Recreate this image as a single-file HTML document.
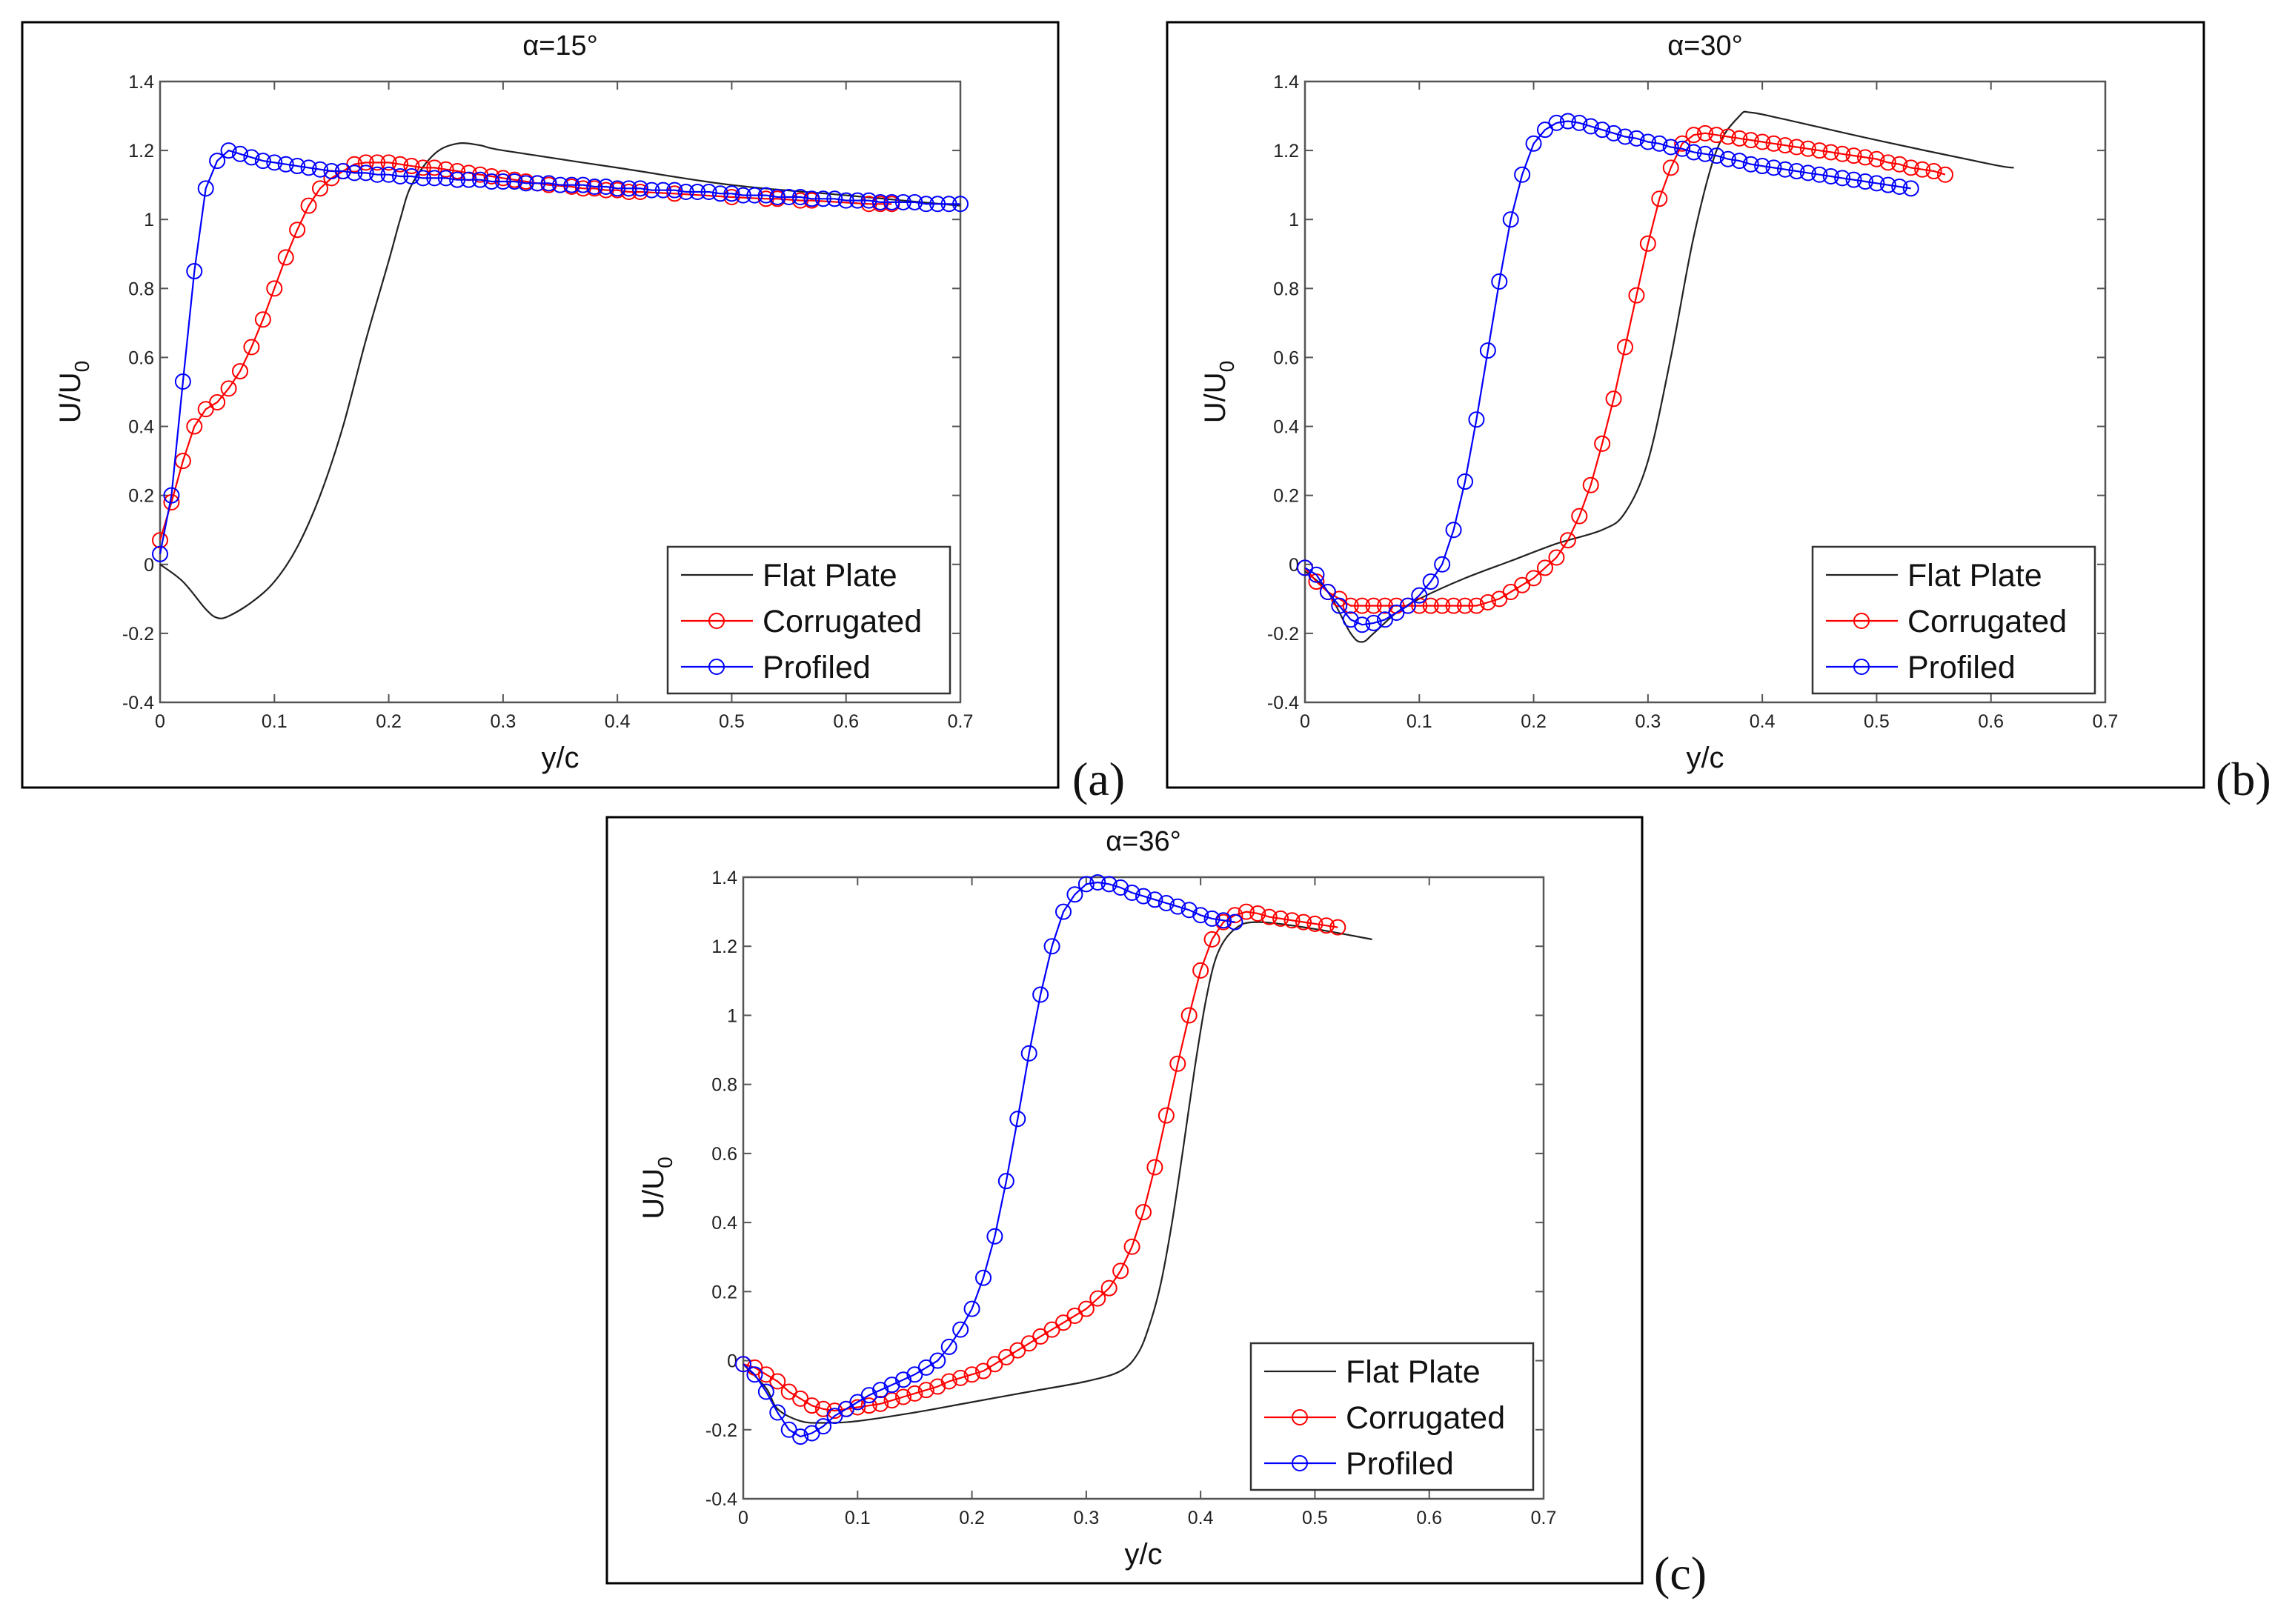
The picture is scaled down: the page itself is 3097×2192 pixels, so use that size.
<!DOCTYPE html>
<html><head><meta charset="utf-8"><style>
html,body{margin:0;padding:0;background:#fff;}
svg{display:block;}
text{font-family:"Liberation Sans",Arial,sans-serif;}
text.serif{font-family:"Liberation Serif",serif;}
</style></head><body>
<svg id="fig" width="3097" height="2192" viewBox="0 0 3097 2192" xmlns="http://www.w3.org/2000/svg"></svg>
<script>
// ---- Tick labels ----
const xTicks = [0,0.1,0.2,0.3,0.4,0.5,0.6,0.7];
const xTickLabels = ["0","0.1","0.2","0.3","0.4","0.5","0.6","0.7"];
const yTicks = [-0.4,-0.2,0,0.2,0.4,0.6,0.8,1,1.2,1.4];
const yTickLabels = ["-0.4","-0.2","0","0.2","0.4","0.6","0.8","1","1.2","1.4"];
const seriesNames = ["Flat Plate","Corrugated","Profiled"];

// ---- Panel (a) alpha=15 ----
const aFlatX = [0,0.02,0.04,0.05,0.06,0.08,0.1,0.12,0.14,0.16,0.18,0.2,0.21,0.22,0.24,0.26,0.28,0.3,0.4,0.5,0.6,0.7];
const aFlatY = [0,-0.05,-0.13,-0.155,-0.15,-0.11,-0.05,0.05,0.2,0.4,0.65,0.88,1.0,1.1,1.19,1.22,1.215,1.2,1.15,1.1,1.07,1.04];
const aCorX = [0,0.01,0.02,0.03,0.04,0.05,0.06,0.07,0.08,0.09,0.1,0.11,0.12,0.13,0.14,0.15,0.16,0.17,0.18,0.19,0.2,0.21,0.22,0.23,0.24,0.25,0.26,0.27,0.28,0.29,0.3,0.31,0.32,0.33,0.34,0.36,0.37,0.38,0.39,0.4,0.41,0.42,0.45,0.5,0.53,0.54,0.56,0.57,0.62,0.63,0.64];
const aCorY = [0.07,0.18,0.30,0.40,0.45,0.47,0.51,0.56,0.63,0.71,0.80,0.89,0.97,1.04,1.09,1.12,1.14,1.16,1.165,1.165,1.165,1.16,1.155,1.15,1.15,1.145,1.14,1.135,1.13,1.125,1.12,1.115,1.11,1.105,1.10,1.095,1.09,1.09,1.085,1.085,1.08,1.08,1.075,1.065,1.06,1.06,1.055,1.055,1.045,1.045,1.045];
const aProX = [0,0.01,0.02,0.03,0.04,0.05,0.06,0.07,0.08,0.09,0.1,0.11,0.12,0.13,0.14,0.15,0.16,0.17,0.18,0.19,0.2,0.21,0.22,0.23,0.24,0.25,0.26,0.27,0.28,0.29,0.3,0.31,0.32,0.33,0.34,0.35,0.36,0.37,0.38,0.39,0.4,0.41,0.42,0.43,0.44,0.45,0.46,0.47,0.48,0.49,0.5,0.51,0.52,0.53,0.54,0.55,0.56,0.57,0.58,0.59,0.6,0.61,0.62,0.63,0.64,0.65,0.66,0.67,0.68,0.69,0.7];
const aProY = [0.03,0.2,0.53,0.85,1.09,1.17,1.2,1.19,1.18,1.17,1.165,1.16,1.155,1.15,1.145,1.14,1.14,1.135,1.135,1.13,1.13,1.125,1.125,1.12,1.12,1.12,1.115,1.115,1.115,1.11,1.11,1.11,1.105,1.105,1.105,1.1,1.1,1.1,1.095,1.095,1.09,1.09,1.09,1.085,1.085,1.085,1.08,1.08,1.08,1.075,1.075,1.07,1.07,1.07,1.065,1.065,1.065,1.06,1.06,1.06,1.055,1.055,1.055,1.05,1.05,1.05,1.05,1.045,1.045,1.045,1.045];

// ---- Panel (b) alpha=30 ----
const bFlatX = [0,0.02,0.04,0.05,0.06,0.08,0.1,0.14,0.18,0.22,0.26,0.28,0.3,0.32,0.34,0.36,0.38,0.39,0.42,0.5,0.6,0.62];
const bFlatY = [-0.02,-0.08,-0.2,-0.225,-0.2,-0.14,-0.1,-0.04,0.01,0.06,0.1,0.15,0.3,0.6,0.95,1.2,1.3,1.31,1.29,1.23,1.16,1.15];
const bCorX = [0,0.01,0.02,0.03,0.04,0.05,0.06,0.07,0.08,0.09,0.1,0.11,0.12,0.13,0.14,0.15,0.16,0.17,0.18,0.19,0.2,0.21,0.22,0.23,0.24,0.25,0.26,0.27,0.28,0.29,0.3,0.31,0.32,0.33,0.34,0.35,0.36,0.37,0.38,0.39,0.4,0.41,0.42,0.43,0.44,0.45,0.46,0.47,0.48,0.49,0.5,0.51,0.52,0.53,0.54,0.55,0.56];
const bCorY = [-0.01,-0.05,-0.08,-0.1,-0.12,-0.12,-0.12,-0.12,-0.12,-0.12,-0.12,-0.12,-0.12,-0.12,-0.12,-0.12,-0.11,-0.1,-0.08,-0.06,-0.04,-0.01,0.02,0.07,0.14,0.23,0.35,0.48,0.63,0.78,0.93,1.06,1.15,1.22,1.245,1.25,1.245,1.24,1.235,1.23,1.225,1.22,1.215,1.21,1.205,1.2,1.195,1.19,1.185,1.18,1.175,1.165,1.16,1.15,1.145,1.14,1.13];
const bProX = [0,0.01,0.02,0.03,0.04,0.05,0.06,0.07,0.08,0.09,0.1,0.11,0.12,0.13,0.14,0.15,0.16,0.17,0.18,0.19,0.2,0.21,0.22,0.23,0.24,0.25,0.26,0.27,0.28,0.29,0.3,0.31,0.32,0.33,0.34,0.35,0.36,0.37,0.38,0.39,0.4,0.41,0.42,0.43,0.44,0.45,0.46,0.47,0.48,0.49,0.5,0.51,0.52,0.53];
const bProY = [-0.01,-0.03,-0.08,-0.12,-0.16,-0.175,-0.17,-0.16,-0.14,-0.12,-0.09,-0.05,0.0,0.1,0.24,0.42,0.62,0.82,1.0,1.13,1.22,1.26,1.28,1.285,1.28,1.27,1.26,1.25,1.24,1.235,1.225,1.22,1.21,1.205,1.195,1.19,1.185,1.175,1.17,1.16,1.155,1.15,1.145,1.14,1.135,1.13,1.125,1.12,1.115,1.11,1.105,1.1,1.095,1.09];

// ---- Panel (c) alpha=36 ----
const cFlatX = [0,0.02,0.03,0.05,0.07,0.1,0.15,0.2,0.25,0.3,0.33,0.345,0.355,0.365,0.375,0.385,0.395,0.405,0.415,0.43,0.45,0.5,0.55];
const cFlatY = [-0.01,-0.08,-0.14,-0.175,-0.18,-0.175,-0.15,-0.12,-0.09,-0.06,-0.03,0.02,0.1,0.22,0.4,0.62,0.85,1.05,1.18,1.25,1.27,1.25,1.22];
const cCorX = [0,0.01,0.02,0.03,0.04,0.05,0.06,0.07,0.08,0.09,0.1,0.11,0.12,0.13,0.14,0.15,0.16,0.17,0.18,0.19,0.2,0.21,0.22,0.23,0.24,0.25,0.26,0.27,0.28,0.29,0.3,0.31,0.32,0.33,0.34,0.35,0.36,0.37,0.38,0.39,0.4,0.41,0.42,0.43,0.44,0.45,0.46,0.47,0.48,0.49,0.5,0.51,0.52];
const cCorY = [-0.01,-0.02,-0.04,-0.06,-0.09,-0.11,-0.13,-0.14,-0.145,-0.14,-0.135,-0.13,-0.125,-0.115,-0.105,-0.095,-0.085,-0.075,-0.06,-0.05,-0.04,-0.03,-0.01,0.01,0.03,0.05,0.07,0.09,0.11,0.13,0.15,0.18,0.21,0.26,0.33,0.43,0.56,0.71,0.86,1.0,1.13,1.22,1.27,1.29,1.3,1.295,1.285,1.28,1.275,1.27,1.265,1.26,1.255];
const cProX = [0,0.01,0.02,0.03,0.04,0.05,0.06,0.07,0.08,0.09,0.1,0.11,0.12,0.13,0.14,0.15,0.16,0.17,0.18,0.19,0.2,0.21,0.22,0.23,0.24,0.25,0.26,0.27,0.28,0.29,0.3,0.31,0.32,0.33,0.34,0.35,0.36,0.37,0.38,0.39,0.4,0.41,0.42,0.43];
const cProY = [-0.01,-0.04,-0.09,-0.15,-0.2,-0.22,-0.21,-0.19,-0.16,-0.14,-0.12,-0.1,-0.085,-0.07,-0.055,-0.04,-0.02,0.0,0.04,0.09,0.15,0.24,0.36,0.52,0.7,0.89,1.06,1.2,1.3,1.35,1.38,1.385,1.38,1.37,1.355,1.345,1.335,1.325,1.315,1.305,1.29,1.28,1.275,1.27];

const NS='http://www.w3.org/2000/svg';
const svg=document.getElementById('fig');
function mk(tag,attrs,parent){const e=document.createElementNS(NS,tag);for(const k in attrs)e.setAttribute(k,attrs[k]);(parent||svg).appendChild(e);return e;}

const panels=[
 {id:'a',title:'15',box:[30,30,1398,1033],plot:[216,110,1080,838],letter:[1447,1073],
  flat:[aFlatX,aFlatY],cor:[aCorX,aCorY],pro:[aProX,aProY]},
 {id:'b',title:'30',box:[1575,30,1399,1033],plot:[1761,110,1080,838],letter:[2990,1073],
  flat:[bFlatX,bFlatY],cor:[bCorX,bCorY],pro:[bProX,bProY]},
 {id:'c',title:'36',box:[819,1103,1397,1034],plot:[1003,1184,1080,839],letter:[2232,2145],
  flat:[cFlatX,cFlatY],cor:[cCorX,cCorY],pro:[cProX,cProY]}
];

function smoothPath(P){
 let d='M'+P[0][0].toFixed(1)+','+P[0][1].toFixed(1);
 for(let i=0;i<P.length-1;i++){
  const p0=P[i-1]||P[i],p1=P[i],p2=P[i+1],p3=P[i+2]||P[i+1];
  const c1=[p1[0]+(p2[0]-p0[0])/6,p1[1]+(p2[1]-p0[1])/6];
  const c2=[p2[0]-(p3[0]-p1[0])/6,p2[1]-(p3[1]-p1[1])/6];
  d+=` C${c1[0].toFixed(1)},${c1[1].toFixed(1)} ${c2[0].toFixed(1)},${c2[1].toFixed(1)} ${p2[0].toFixed(1)},${p2[1].toFixed(1)}`;
 }
 return d;
}

panels.forEach(p=>{
 const g=mk('g',{});
 
 
 const [px,py,pw,ph]=p.plot;
 const sx=v=>px+(v-0)/0.7*pw;
 const sy=v=>py+ph-(v+0.4)/1.8*ph;
 const frame=mk('rect',{x:p.box[0],y:p.box[1],width:p.box[2],height:p.box[3],fill:'none',stroke:'#000','stroke-width':3},g);
 
 
 const ax=mk('rect',{x:px,y:py,width:pw,height:ph,fill:'#fff',stroke:'#555','stroke-width':2.5},g);
 
 
 xTicks.forEach((t,i)=>{
  const x=sx(t);
  mk('line',{x1:x,y1:py+ph,x2:x,y2:py+ph-11,stroke:'#555','stroke-width':2},g);
  mk('line',{x1:x,y1:py,x2:x,y2:py+11,stroke:'#555','stroke-width':2},g);
  const tl=mk('text',{x:x,y:py+ph+34,'font-size':25,'text-anchor':'middle',fill:'#222'},g);
  tl.textContent=xTickLabels[i];
  
  
 });
 yTicks.forEach((t,i)=>{
  const y=sy(t);
  mk('line',{x1:px,y1:y,x2:px+11,y2:y,stroke:'#555','stroke-width':2},g);
  mk('line',{x1:px+pw,y1:y,x2:px+pw-11,y2:y,stroke:'#555','stroke-width':2},g);
  const tl=mk('text',{x:px-8,y:y+9,'font-size':25,'text-anchor':'end',fill:'#222'},g);
  tl.textContent=yTickLabels[i];
  
  
 });
 const tt=mk('text',{x:px+pw/2,y:py-36,'font-size':38,'text-anchor':'middle',fill:'#111'},g);
 tt.textContent='\u03b1='+p.title+'\u00b0';
 
 
 const xl=mk('text',{x:px+pw/2,y:py+ph+88,'font-size':40,'text-anchor':'middle',fill:'#111'},g);
 xl.textContent='y/c';
 
 
 const yl=mk('text',{transform:`translate(${px-108},${py+ph/2}) rotate(-90)`,'font-size':40,'text-anchor':'middle',fill:'#111'},g);
 yl.innerHTML='U/U<tspan font-size="28" dy="12">0</tspan>';
 
 
 const lt=mk('text',{x:p.letter[0],y:p.letter[1],'font-size':64,fill:'#111','class':'serif'},g);
 lt.textContent='('+p.id+')';
 
 
 // series
 const pts=(X,Y)=>X.map((x,i)=>sx(x).toFixed(1)+','+sy(Y[i]).toFixed(1)).join(' ');
 const fl=mk('path',{d:smoothPath(p.flat[0].map((x,i)=>[sx(x),sy(p.flat[1][i])])),fill:'none',stroke:'#222','stroke-width':2.2},g);
 
 
 [['cor','#ff0000','corrugated'],['pro','#0000ff','profiled']].forEach(([k,c,n])=>{
  const sg=mk('g',{},g);
  
  
  const [X,Y]=p[k];
  mk('polyline',{points:pts(X,Y),fill:'none',stroke:c,'stroke-width':2.2},sg);
  X.forEach((x,i)=>{
   const m=mk('circle',{cx:sx(x),cy:sy(Y[i]),r:10,fill:'none',stroke:c,'stroke-width':2},sg);
   
   
  });
 });
 // legend
 const lw=381,lh=198,lx=px+pw-14-lw,ly=py+ph-12-lh;
 const lg=mk('g',{},g);
 
 
 mk('rect',{x:lx,y:ly,width:lw,height:lh,fill:'#fff',stroke:'#333','stroke-width':2.5},lg);
 const cols=['#222','#ff0000','#0000ff'];
 seriesNames.forEach((s,i)=>{
  const yy=ly+38+i*62;
  mk('line',{x1:lx+18,y1:yy,x2:lx+115,y2:yy,stroke:cols[i],'stroke-width':2.2},lg);
  if(i>0)mk('circle',{cx:lx+66,cy:yy,r:10,fill:'none',stroke:cols[i],'stroke-width':2},lg);
  const t=mk('text',{x:lx+128,y:yy+15,'font-size':43,fill:'#111'},lg);
  t.textContent=s;
  
  
 });
});
</script>
</body></html>
